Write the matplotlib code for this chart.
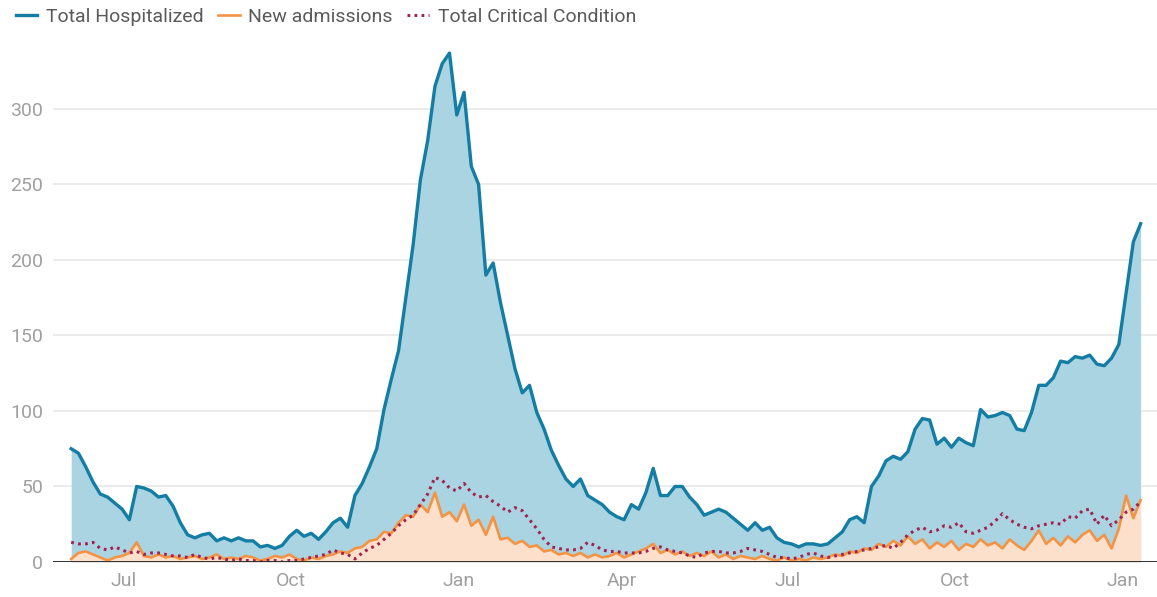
import pandas as pd
import matplotlib.pyplot as plt
import matplotlib.dates as mdates

plt.rcParams['font.family'] = ['Roboto', 'DejaVu Sans']

# samples every 4 days, 2020-06-02 .. 2022-01-11
dates = pd.date_range('2020-06-02', periods=148, freq='4D')

total_hospitalized = [
    75, 72, 63, 53, 45, 43, 39, 35, 28, 50,
    49, 47, 43, 44, 37, 26, 18, 16, 18, 19,
    14, 16, 14, 16, 14, 14, 10, 11, 9, 11,
    17, 21, 17, 19, 15, 20, 26, 29, 23, 44,
    52, 63, 75, 101, 121, 140, 175, 210, 253, 279,
    315, 330, 337, 296, 311, 262, 250, 190, 198, 172,
    150, 128, 112, 117, 99, 88, 74, 64, 55, 50,
    55, 44, 41, 38, 33, 30, 28, 38, 35, 46,
    62, 44, 44, 50, 50, 43, 38, 31, 33, 35,
    33, 29, 25, 21, 26, 21, 23, 16, 13, 12,
    10, 12, 12, 11, 12, 16, 20, 28, 30, 26,
    50, 57, 67, 70, 68, 73, 88, 95, 94, 78,
    82, 76, 82, 79, 77, 101, 96, 97, 99, 97,
    88, 87, 99, 117, 117, 122, 133, 132, 136, 135,
    137, 131, 130, 135, 144, 178, 212, 224,
]

new_admissions = [
    2, 6, 7, 5, 3, 1, 3, 4, 6, 13,
    4, 3, 5, 3, 4, 2, 3, 4, 2, 3,
    5, 2, 3, 2, 4, 3, 1, 2, 4, 3,
    5, 2, 1, 3, 2, 4, 5, 7, 6, 9,
    10, 14, 15, 20, 19, 26, 31, 30, 38, 33,
    46, 30, 33, 27, 38, 24, 28, 18, 30, 15,
    16, 12, 14, 10, 11, 7, 8, 5, 6, 4,
    6, 3, 5, 3, 4, 6, 3, 5, 7, 9,
    12, 6, 8, 5, 7, 4, 6, 4, 7, 3,
    5, 2, 4, 3, 2, 4, 2, 1, 3, 1,
    2, 1, 3, 2, 3, 5, 4, 7, 6, 9,
    8, 12, 10, 14, 11, 17, 12, 15, 9, 13,
    10, 14, 8, 12, 10, 15, 11, 13, 9, 15,
    11, 8, 14, 21, 12, 16, 11, 17, 13, 18,
    21, 14, 18, 9, 22, 44, 29, 41,
]

critical = [
    13, 12, 12, 13, 9, 8, 10, 8, 6, 7,
    5, 6, 6, 5, 4, 4, 3, 5, 3, 2,
    3, 2, 1, 2, 1, 1, 0, 1, 1, 0,
    1, 1, 2, 3, 4, 5, 8, 6, 5, 2,
    6, 9, 11, 15, 19, 24, 28, 31, 38, 45,
    56, 54, 49, 47, 52, 46, 43, 44, 40, 37,
    33, 36, 34, 28, 22, 15, 10, 9, 8, 8,
    9, 13, 11, 8, 7, 7, 6, 6, 6, 7,
    9, 10, 8, 7, 6, 4, 3, 6, 7, 7,
    6, 6, 7, 9, 8, 7, 5, 3, 3, 2,
    3, 5, 6, 4, 3, 4, 5, 6, 7, 8,
    9, 10, 11, 9, 13, 18, 21, 23, 20, 21,
    24, 23, 26, 20, 19, 21, 23, 27, 32, 28,
    25, 23, 22, 24, 25, 26, 25, 30, 29, 34,
    35, 25, 31, 24, 28, 33, 35, 40,
]

blue = '#137da3'
orange = '#f39343'
crimson = '#a3234f'

fig = plt.figure(figsize=(11.57, 5.97), dpi=100)
ax = fig.add_axes([53 / 1157, 35 / 597, 1104 / 1157, 521 / 597])

ax.fill_between(dates, total_hospitalized, 0, color='#aad4e2', lw=0, zorder=1)
ax.fill_between(dates, new_admissions, 0, color='#fde0cb', lw=0, zorder=2)
ax.plot(dates, total_hospitalized, color=blue, lw=2.4, label='Total Hospitalized', zorder=3)
ax.plot(dates, new_admissions, color=orange, lw=1.9, label='New admissions', zorder=4)
ax.plot(dates, critical, color=crimson, lw=2.2, ls=(0, (0.9, 1.4)),
        label='Total Critical Condition', zorder=5)
ax.axhline(0, color='#222222', lw=1.3, zorder=6)

ax.set_xlim(pd.Timestamp('2020-05-23'), pd.Timestamp('2022-01-20'))
ax.set_ylim(0, 345)
ax.set_yticks([0, 50, 100, 150, 200, 250, 300])
ax.xaxis.set_major_locator(mdates.MonthLocator(bymonth=[1, 4, 7, 10]))
ax.xaxis.set_major_formatter(mdates.DateFormatter('%b'))
ax.grid(axis='y', color='#e8e8e8', lw=1.2, zorder=0)
ax.set_axisbelow(True)
for s in ax.spines.values():
    s.set_visible(False)
ax.tick_params(axis='both', length=0, labelsize=14, labelcolor='#a0a0a0')
ax.tick_params(axis='y', pad=7)
ax.tick_params(axis='x', pad=7)

leg = fig.legend(loc='upper left', bbox_to_anchor=(0.002, 1.009), ncol=3, frameon=False,
                 fontsize=14, handlelength=1.1, handletextpad=0.45, columnspacing=0.75,
                 borderaxespad=0.3)
for t in leg.get_texts():
    t.set_color('#5a5a5a')

plt.savefig('out.png', dpi=100)
